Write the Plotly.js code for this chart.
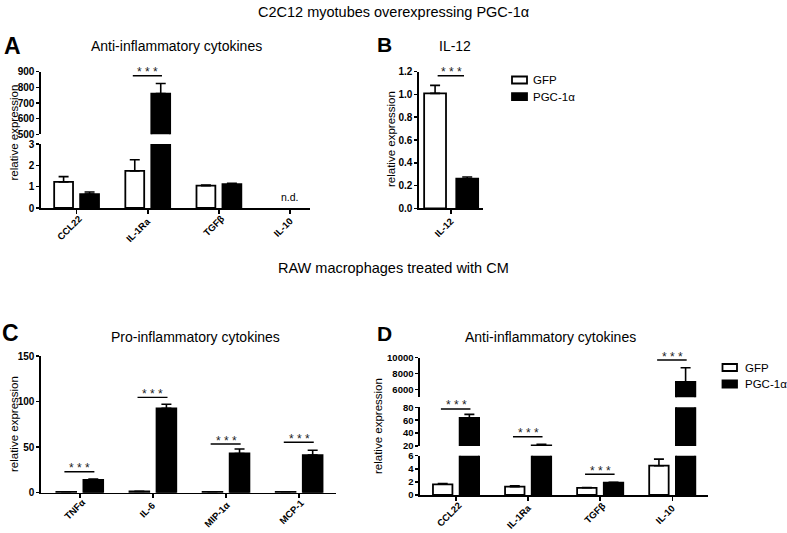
<!DOCTYPE html>
<html>
<head>
<meta charset="utf-8">
<script src="https://cdn.plot.ly/plotly-3.0.1.min.js"></script>
<style>html,body{margin:0;padding:0;background:#fff;}#chart{width:787px;height:533px;}</style>
</head>
<body>
<div id="chart"></div>
<script>
// ---------- DATA ----------
const catsA = ['CCL22', 'IL-1Ra', 'TGFβ', 'IL-10'];
const gfpA = [1.22, 1.74, 1.05, null];
const gfpAerr = [0.25, 0.52, 0.03, null];
const pgcA = [0.65, 760, 1.12, null];
const pgcAerr = [0.1, 65, 0.04, null];

const catsB = ['IL-12'];
const gfpB = [1.01];
const gfpBerr = [0.07];
const pgcB = [0.26];
const pgcBerr = [0.015];

const catsC = ['TNFα', 'IL-6', 'MIP-1α', 'MCP-1'];
const gfpC = [1.0, 1.3, 1.0, 1.0];
const gfpCerr = [0.1, 0.3, 0.1, 0.1];
const pgcC = [14, 92.5, 43, 41.3];
const pgcCerr = [1, 4.5, 5, 5.2];

const catsD = ['CCL22', 'IL-1Ra', 'TGFβ', 'IL-10'];
const gfpD = [1.63, 1.27, 1.1, 4.47];
const gfpDerr = [0.12, 0.15, 0.05, 1.0];
const pgcD = [63.7, 21, 1.88, 6960];
const pgcDerr = [5.3, 1.5, 0.05, 1770];

// y tick labels per axis segment
const ticksAlow = [0, 1, 2, 3];
const ticksAhigh = [500, 600, 700, 800, 900];
const ticksB = [0, 0.2, 0.4, 0.6, 0.8, 1.0, 1.2];
const ticksC = [0, 50, 100, 150];
const ticksDlow = [0, 2, 4, 6];
const ticksDmid = [20, 40, 60, 80];
const ticksDtop = [6000, 8000, 10000];

const seriesNames = ['GFP', 'PGC-1α'];
const notDetected = 'n.d.';
const stars = '* * *';
const sigA = [['IL-1Ra', 874, 'y2']];
const sigB = [['IL-12', 1.165, 'y3']];
const sigC = [['TNFα', 23, 'y4'], ['IL-6', 104.6, 'y4'], ['MIP-1α', 53.4, 'y4'], ['MCP-1', 55.3, 'y4']];
const sigD = [['CCL22', 77.4, 'y6'], ['IL-1Ra', 34.4, 'y6'], ['TGFβ', 3.16, 'y5'], ['IL-10', 9710, 'y7']];

// ---------- LAYOUT HELPERS ----------
const W = 787, H = 533;
const FONT = 'Liberation Sans, Arial, Helvetica, sans-serif';
const px = x => x / W;
const py = y => 1 - y / H;
const dx = (a, b) => [px(a), px(b)];
const dy = (bottom, top) => [py(bottom), py(top)];

function barTrace(cats, vals, errs, fill, xa, ya, width, offset, name) {
  return {
    type: 'bar', x: cats, y: vals, xaxis: xa, yaxis: ya,
    width: width, offset: offset, name: name, showlegend: false, hoverinfo: 'skip',
    marker: {color: fill, line: {color: '#000', width: 1.8}},
    error_y: {type: 'data', symmetric: false, array: errs,
      arrayminus: errs.map(() => 0), color: '#000', thickness: 1.6, width: 5}
  };
}

const traces = [];
function addPanel(cats, g, ge, p, pe, xa, yas, width, offG, offP) {
  yas.forEach(ya => {
    traces.push(barTrace(cats, g, ge, '#fff', xa, ya, width, offG, seriesNames[0]));
    traces.push(barTrace(cats, p, pe, '#000', xa, ya, width, offP, seriesNames[1]));
  });
}
addPanel(catsA, gfpA, gfpAerr, pgcA, pgcAerr, 'x', ['y', 'y2'], 0.265, -0.315, 0.05);
addPanel(catsB, gfpB, gfpBerr, pgcB, pgcBerr, 'x2', ['y3'], 0.34, -0.42, 0.08);
addPanel(catsC, gfpC, gfpCerr, pgcC, pgcCerr, 'x3', ['y4'], 0.27, -0.32, 0.05);
addPanel(catsD, gfpD, gfpDerr, pgcD, pgcDerr, 'x4', ['y5', 'y6', 'y7'], 0.27, -0.32, 0.05);

const tickFont = {family: FONT, size: 10, color: '#000', weight: 'bold'};
function xax(domain, anchor, range, cats) {
  return {domain, anchor, range, type: 'category', categoryorder: 'array', categoryarray: cats,
    showline: true, linecolor: '#000', linewidth: 1.6, ticks: 'outside', ticklen: 4,
    tickwidth: 1.5, tickcolor: '#000', showticklabels: false,
    showgrid: false, zeroline: false, fixedrange: true};
}
function yax(domain, anchor, range, vals, digits, size) {
  return {domain, anchor, range, tickmode: 'array', tickvals: vals,
    ticktext: vals.map(v => v.toFixed(digits)),
    showline: true, linecolor: '#000', linewidth: 1.6, ticks: 'outside', ticklen: 3,
    tickwidth: 1.5, tickcolor: '#000', tickfont: Object.assign({}, tickFont, {size: size || 10}),
    showgrid: false, zeroline: false, fixedrange: true};
}

const layout = {
  width: W, height: H, margin: {l: 0, r: 0, t: 0, b: 0},
  paper_bgcolor: '#fff', plot_bgcolor: 'rgba(0,0,0,0)',
  barmode: 'overlay', font: {family: FONT, color: '#000'}, showlegend: false,
  xaxis: xax(dx(41, 310), 'y', [-0.5, 3.28], catsA),
  yaxis: yax(dy(208, 144), 'x', [0, 3], ticksAlow, 0),
  yaxis2: yax(dy(134.3, 71.7), 'x', [500, 900], ticksAhigh, 0),
  xaxis2: xax(dx(419, 483.3), 'y3', [-0.5, 0.5], catsB),
  yaxis3: yax(dy(208.3, 71.7), 'x2', [0, 1.2], ticksB, 1),
  xaxis3: xax(dx(41, 335.7), 'y4', [-0.53, 3.5], catsC),
  yaxis4: yax(dy(492.7, 356), 'x3', [0, 150], ticksC, 0),
  xaxis4: xax(dx(420, 708.3), 'y5', [-0.5, 3.5], catsD),
  yaxis5: yax(dy(495, 455.7), 'x4', [0, 6], ticksDlow, 0, 9.5),
  yaxis6: yax(dy(446, 407.3), 'x4', [20, 80], ticksDmid, 0, 9.5),
  yaxis7: yax(dy(397.3, 357.7), 'x4', [5000, 10000], ticksDtop, 0, 9.5),
  shapes: [], annotations: []
};

// rotated category labels, centre-anchored so the text ends just below the tick
function xLabels(cats, xa, axisY) {
  cats.forEach((c, i) => {
    const half = c.length * 5.8 * 0.3536;
    layout.annotations.push({xref: xa, yref: 'paper', x: i, y: py(axisY + 9 + half),
      xanchor: 'center', yanchor: 'middle', xshift: 3 - half, textangle: -45, text: c,
      showarrow: false, font: {family: FONT, size: 9.5, color: '#000', weight: 'bold'}});
  });
}
xLabels(catsA, 'x', 208);
xLabels(catsB, 'x2', 208.3);
xLabels(catsC, 'x3', 492.7);
xLabels(catsD, 'x4', 495);

function addSig(list, xa, cats) {
  list.forEach(([c, yv, ya]) => {
    const i = cats.indexOf(c);
    layout.shapes.push({type: 'line', xref: xa, yref: ya, x0: i - 0.21, x1: i + 0.2, y0: yv, y1: yv,
      line: {color: '#000', width: 1.4}, layer: 'above'});
    layout.annotations.push({xref: xa, yref: ya, x: i, y: yv, text: stars, showarrow: false,
      yanchor: 'bottom', yshift: -5.5, font: {family: FONT, size: 12, color: '#222'}});
  });
}
addSig(sigA, 'x', catsA);
addSig(sigB, 'x2', catsB);
addSig(sigC, 'x3', catsC);
addSig(sigD, 'x4', catsD);

layout.annotations.push({xref: 'x', yref: 'y', x: 3, y: 0.12, yanchor: 'bottom', text: notDetected,
  showarrow: false, font: {family: FONT, size: 10.5, color: '#000'}});

function legendBox(x0, x1, yc0, yc1, textX) {
  [[yc0, '#fff', seriesNames[0]], [yc1, '#000', seriesNames[1]]].forEach(([yc, fill, name]) => {
    layout.shapes.push({type: 'rect', xref: 'paper', yref: 'paper', x0: px(x0), x1: px(x1),
      y0: py(yc + 3.5), y1: py(yc - 3.5), fillcolor: fill, line: {color: '#000', width: 1.8}});
    layout.annotations.push({xref: 'paper', yref: 'paper', x: px(textX), y: py(yc), xanchor: 'left',
      yanchor: 'middle', text: name, showarrow: false, font: {family: FONT, size: 11.5, color: '#000'}});
  });
}
legendBox(512, 527, 80, 96.7, 531);
legendBox(722.5, 737, 367.5, 384, 743);

function txt(x, y, text, size, opts) {
  layout.annotations.push(Object.assign({xref: 'paper', yref: 'paper', x: px(x), y: py(y), text,
    showarrow: false, xanchor: 'center', yanchor: 'middle',
    font: {family: FONT, size, color: '#000'}}, opts || {}));
}
txt(393.5, 12, 'C2C12 myotubes overexpressing PGC-1α', 14.5);
txt(393.5, 268, 'RAW macrophages treated with CM', 14.5);
txt(176, 46, 'Anti-inflammatory cytokines', 14);
txt(455, 46, 'IL-12', 14);
txt(195.5, 337, 'Pro-inflammatory cytokines', 14);
txt(550, 337, 'Anti-inflammatory cytokines', 14);
const bold = s => ({font: {family: FONT, size: s, color: '#000', weight: 'bold'}});
txt(12, 46, 'A', 23, bold(23));
txt(384, 44, 'B', 21, bold(21));
txt(10, 333, 'C', 23, bold(23));
txt(384, 333, 'D', 21, bold(21));
txt(13.5, 133, 'relative expression', 11.5, {textangle: -90});
txt(391, 139, 'relative expression', 11.5, {textangle: -90});
txt(14, 424, 'relative expression', 11.5, {textangle: -90});
txt(378, 426, 'relative expression', 11.5, {textangle: -90});

Plotly.newPlot('chart', traces, layout, {staticPlot: true, displayModeBar: false});
</script>
</body>
</html>
